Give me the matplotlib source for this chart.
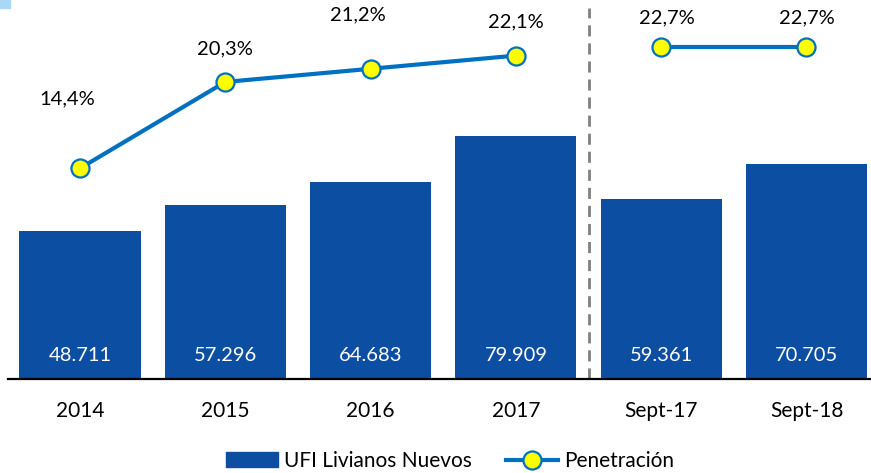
import matplotlib.pyplot as plt
from matplotlib.lines import Line2D
from matplotlib.patches import Patch, Rectangle
import numpy as np

plt.rcParams['font.family'] = ['Lato', 'DejaVu Sans']

categories = ['2014', '2015', '2016', '2017', 'Sept-17', 'Sept-18']
ufi = [48711, 57296, 64683, 79909, 59361, 70705]
ufi_labels = ['48.711', '57.296', '64.683', '79.909', '59.361', '70.705']
penetracion = [14.4, 20.3, 21.2, 22.1, 22.7, 22.7]
pen_labels = ['14,4%', '20,3%', '21,2%', '22,1%', '22,7%', '22,7%']

BAR_COLOR = '#0B4EA2'
LINE_COLOR = '#0070C0'

fig = plt.figure(figsize=(8.71, 4.73), dpi=100)
ax = fig.add_axes([8 / 871, 94 / 473, 863 / 871, 379 / 473])
x = np.arange(len(categories))

ax.bar(x, ufi, width=0.833, color=BAR_COLOR, zorder=2)
for xi, lab in zip(x, ufi_labels):
    ax.annotate(lab, (xi, 0), xytext=(0, 17), textcoords='offset points',
                ha='center', va='center', color='white', fontsize=14.5)

ax.set_xlim(-0.4955, 5.444)
ax.set_ylim(0, 124700)
ax.set_yticks([])
ax.set_xticks(x)
ax.set_xticklabels(categories, fontsize=15)
ax.tick_params(axis='x', length=0, pad=15.5)
for s in ['top', 'right', 'left']:
    ax.spines[s].set_visible(False)
ax.spines['bottom'].set_linewidth(1.6)
ax.spines['bottom'].set_zorder(5)

ax.axvline(3.5, ymin=0, ymax=0.98, color='#808080', linestyle=(0, (4, 2.5)), linewidth=2)

ax2 = ax.twinx()
ax2.set_ylim(0, 25.9)
ax2.axis('off')
line_style = dict(color=LINE_COLOR, linewidth=3, marker='o', markersize=13,
                  markerfacecolor='#FFFF00', markeredgecolor=LINE_COLOR, markeredgewidth=1.6)
ax2.plot(x[:4], penetracion[:4], **line_style)
ax2.plot(x[4:], penetracion[4:], **line_style)

offsets = [(-9, 50), (0, 24), (-9, 39), (0, 24), (4, 21), (0, 21)]
for xi, yi, lab, off in zip(x, penetracion, pen_labels, offsets):
    ax2.annotate(lab, (xi, yi), xytext=off, textcoords='offset points',
                 ha='center', va='center', fontsize=14.5)

handles = [Patch(color=BAR_COLOR),
           Line2D([], [], **line_style)]
fig.legend(handles, ['UFI Livianos Nuevos', 'Penetración'], loc='center',
           bbox_to_anchor=(450 / 871, 12 / 473), ncol=2, frameon=False, fontsize=15,
           handlelength=2.5, handleheight=0.7, handletextpad=0.3, columnspacing=1.6)

fig.patches.append(Rectangle((0, 465 / 473), 10 / 871, 8 / 473, transform=fig.transFigure,
                             color='#A9D8F7'))

fig.savefig('out.png', dpi=100)
